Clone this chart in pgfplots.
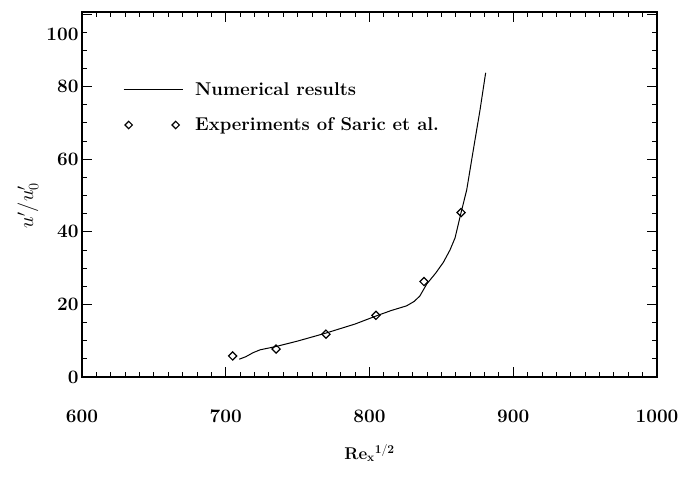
\documentclass[border=0pt]{standalone}
\usepackage{pgfplots}
\pgfplotsset{compat=1.18}
\pgfplotstableread{
x y
709.4 4.9
714 5.6
719 6.7
724 7.5
735 8.4
750 9.9
769.7 12.1
790 14.6
804.5 16.8
815 18.3
825.8 19.6
831 20.8
835 22.3
839.8 25.6
846 28.6
851.4 31.6
856 35.0
859.5 38.3
863.7 45.3
867.6 51.5
872.2 62.5
876.9 73.6
880.8 83.8
}\numres
\pgfplotstableread{
x y
704.8 5.8
735.0 7.7
769.7 11.8
804.5 17.0
837.9 26.3
863.7 45.3
}\saric
\begin{document}
\begin{tikzpicture}
\path[use as bounding box] (-82pt,-100pt) rectangle (611pt,377pt);
\begin{axis}[
  at={(0pt,0pt)}, anchor=south west,
  scale only axis, width=575pt, height=365pt,
  xmin=600, xmax=1000, ymin=0, ymax=100.55,
  xtick={600,700,...,1000},
  ytick={0,20,...,100},
  yticklabels={0,20,40,60,80,{}},
  extra y ticks={100}, extra y tick labels={100},
  extra y tick style={yticklabel style={yshift=-20pt}, major tick length=0pt},
  minor x tick num=9, minor y tick num=3,
  tick align=inside, major tick length=10pt, minor tick length=5pt,
  axis line style={line width=1.2pt},
  every tick/.style={black, line width=0.8pt},
  ticklabel style={font=\fontsize{19}{22}\selectfont\bfseries},
  /pgf/number format/assume math mode=true,
  /pgf/number format/1000 sep={},
  xticklabel style={yshift=-29pt},
  ylabel={$u'/u'_0$},
  ylabel style={font=\fontsize{20}{24}\selectfont, at={(rel axis cs:-0.094,0.47)}, anchor=center},
  xlabel={\textbf{Re}$_{\mathbf{x}}{}^{\mathbf{1/2}}$},
  xlabel style={font=\fontsize{17}{20}\selectfont, at={(rel axis cs:0.5,0)}, anchor=center, yshift=-76pt},
  legend style={draw=none, fill=none, at={(0.0713,0.813)}, anchor=north west,
    font=\fontsize{18.5}{21}\selectfont\bfseries, row sep=17pt, inner sep=0pt, column sep=10pt},
  legend cell align=left,
]
\addplot[black, line width=1pt,
  legend image code/.code={\draw[line width=1pt] (0pt,0pt) -- (59pt,0pt);}]
  table[x=x,y=y] {\numres};
\addlegendentry{Numerical results}
\addplot[only marks, mark=square, mark size=2.9pt,
  mark options={rotate=45, line width=1.2pt, fill=white, draw=black},
  legend image code/.code={\draw[line width=1.2pt, mark size=2.6pt] plot[only marks, mark=square, mark options={rotate=45}] coordinates {(5pt,0pt) (52pt,0pt)};}]
  table[x=x,y=y] {\saric};
\addlegendentry{Experiments of Saric et al.}
\end{axis}
\end{tikzpicture}
\end{document}
